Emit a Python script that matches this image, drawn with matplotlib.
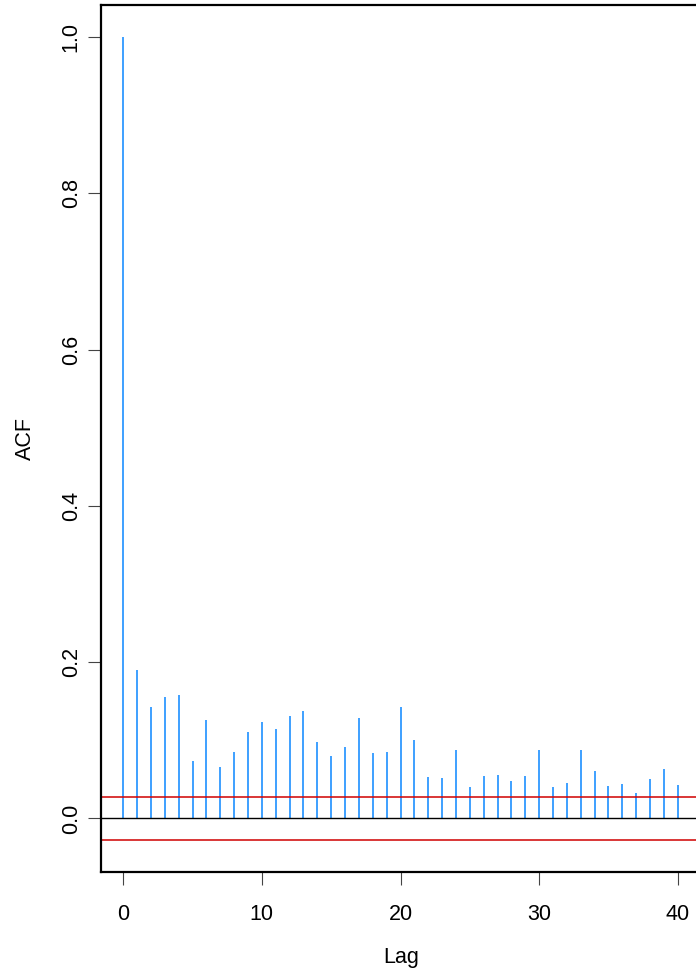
import numpy as np
import matplotlib
matplotlib.use("Agg")
import matplotlib.pyplot as plt

plt.rcParams['font.family'] = ['Liberation Sans', 'DejaVu Sans']

# Autocorrelation estimates by lag
lags = list(range(0, 41))
acf_values = [
    1.000, 0.190, 0.142, 0.156, 0.158, 0.073, 0.126, 0.066, 0.085, 0.110,
    0.124, 0.114, 0.131, 0.137, 0.098, 0.080, 0.092, 0.129, 0.084, 0.085,
    0.143, 0.100, 0.053, 0.052, 0.087, 0.040, 0.054, 0.056, 0.048, 0.054,
    0.087, 0.040, 0.045, 0.088, 0.061, 0.042, 0.044, 0.032, 0.051, 0.063,
    0.043,
]
conf_bound = 0.0275
x_ticks = [0, 10, 20, 30, 40]
y_ticks = [0.0, 0.2, 0.4, 0.6, 0.8, 1.0]

W, H = 696, 973
fig = plt.figure(figsize=(W / 100, H / 100), dpi=100)
ax = fig.add_axes([101 / W, 1 - 872 / H, 599 / W, 867 / H])

ax.vlines(lags, 0, acf_values, color='#1E90FF', lw=1.2)
ax.axhline(0, color='black', lw=1.0)
ax.axhline(conf_bound, color='#D00000', lw=1.1)
ax.axhline(-conf_bound, color='#D00000', lw=1.1)

# R-style 4% padding around the data range
xr = max(lags) - min(lags)
ax.set_xlim(min(lags) - 0.04 * xr, max(lags) + 0.04 * xr)
ymin, ymax = -conf_bound, max(acf_values)
yr = ymax - ymin
ax.set_ylim(ymin - 0.04 * yr, ymax + 0.04 * yr)

ax.set_xticks(x_ticks)
ax.set_xticklabels([str(t) for t in x_ticks])
ax.set_yticks(y_ticks)
ax.set_yticklabels([f"{t:.1f}" for t in y_ticks], rotation=90, va='center')

ax.tick_params(axis='both', direction='out', length=9.4, width=0.8,
               color='#444444', labelsize=15.5)
ax.tick_params(axis='x', pad=14)
ax.tick_params(axis='y', pad=4.5)

for s in ax.spines.values():
    s.set_linewidth(1.6)
    s.set_color('black')

fig.text(400.8 / W, 1 - 958 / H, 'Lag', ha='center', va='center', fontsize=15.5)
fig.text(25 / W, 1 - 438 / H, 'ACF', ha='center', va='center', rotation=90,
         fontsize=15.5)

fig.savefig('out.png', dpi=100)
